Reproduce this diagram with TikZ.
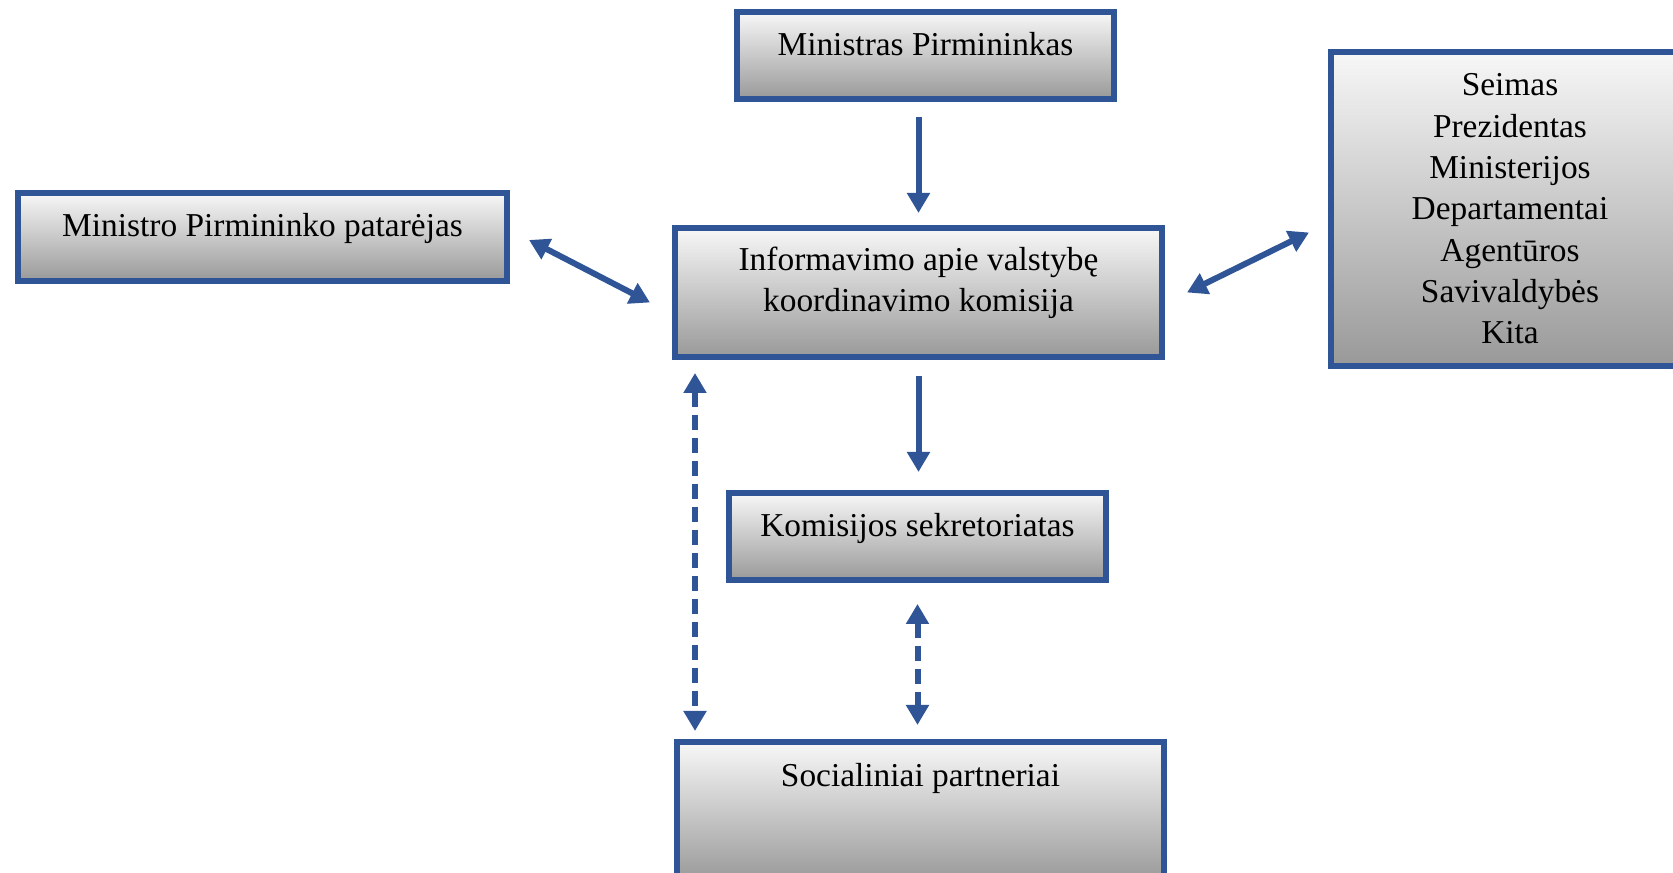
\documentclass[tikz,border=0pt]{standalone}
\usepackage{fontspec}
\setmainfont{Liberation Serif}
\usetikzlibrary{arrows.meta,calc}
\definecolor{boxblue}{RGB}{47,85,151}
\tikzset{
  orgbox/.style={draw=boxblue, line width=0.6mm, top color=white!97!black, bottom color=white!60!black,
    align=center, inner sep=0pt, font=\fontsize{9.5}{11.75}\selectfont},
  oneline/.style={orgbox, text height=0.25cm, text depth=0.25cm},
  link/.style={draw=boxblue, line width=0.6mm, -{Triangle[width=2.2mm,length=2mm]}},
  both/.style={link, {Triangle[width=2.2mm,length=2mm]}-{Triangle[width=2.2mm,length=2mm]}},
  dashlink/.style={both, dash pattern=on 1.5mm off 0.8mm}
}

\begin{document}
\begin{tikzpicture}
			%%%%% START %%%%%
			\useasboundingbox (0, 0) rectangle (16.73, -8.73);
			\clip (0, 0) rectangle (16.73, -8.73);
			
			\node[oneline, minimum width=3.77cm, minimum height=0.87cm] (mp) at (9.255, -0.555) {Ministras Pirmininkas};
			\node[oneline, minimum width=4.89cm, minimum height=0.88cm] (pat) at (2.625, -2.37) {Ministro Pirmininko patarėjas};
			\node[orgbox, minimum width=4.87cm, minimum height=1.29cm] (inf) at (9.185, -2.925) {Informavimo apie valstybę\\koordinavimo komisija\\[-0.15cm]};
			\node[orgbox, minimum width=3.58cm, minimum height=3.14cm] (kiti) at (15.10, -2.09) {Seimas\\Prezidentas\\Ministerijos\\Departamentai\\Agentūros\\Savivaldybės\\Kita};
			\node[oneline, minimum width=3.77cm, minimum height=0.87cm] (sek) at (9.175, -5.365) {Komisijos sekretoriatas};
			\node[oneline, text depth=0.75cm, minimum width=4.87cm, minimum height=1.40cm] (soc) at (9.205, -8.12) {Socialiniai partneriai};
			
			\coordinate (patout) at ($(pat.east)+(0.19,-0.03)$);
			\coordinate (patin) at ($(inf.west)+(-0.22,-0.10)$);
			\coordinate (kitiout) at ($(kiti.west)+(-0.19,-0.235)$);
			\coordinate (kitiin) at ($(inf.east)+(0.22,0.0)$);
			\coordinate (leftup) at ($(inf.south west)+(0.23,0)$);
			
			\draw[link, shorten <=1.5mm, shorten >=1.2mm] (inf.north |- mp.south) -- (inf.north);
			\draw[both] (patout) -- (patin);
			\draw[both] (kitiin) -- (kitiout);
			\draw[link, shorten <=1.6mm, shorten >=1.8mm] (inf.south) -- (inf.south |- sek.north);
			\draw[dashlink, shorten <=1.3mm, shorten >=0.8mm] (leftup) -- (leftup |- soc.north);
			\draw[dashlink, shorten <=2.1mm, shorten >=1.4mm] (sek.south) -- (sek.south |- soc.north);
			
			%%%%% END %%%%%
\end{tikzpicture}
\end{document}
